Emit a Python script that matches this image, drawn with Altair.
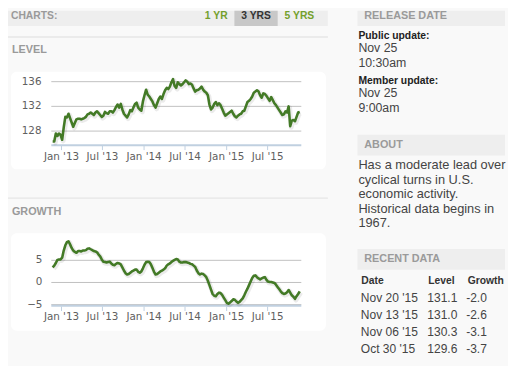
import altair as alt
import pandas as pd

# ---------------- data ----------------
START = "2012-11-23"   # first weekly observation (Fridays)
level = [
    126.3, 126.3, 127.6, 127.2, 127.6, 127.4, 126.6, 128.6, 130.3, 130.2,
    130.8, 130.1, 129.4, 128.7, 129.3, 129.9, 130.0, 130.0, 129.9, 130.0,
    130.1, 130.3, 130.7, 130.8, 131.0, 130.8, 130.6, 131.0, 131.2, 130.9,
    130.6, 130.3, 130.5, 131.1, 130.9, 130.8, 131.2, 131.2, 131.0, 131.4,
    131.9, 132.3, 131.8, 132.4, 131.5, 130.8, 130.5, 130.2, 130.7, 131.4,
    131.2, 131.8, 132.4, 132.6, 131.8, 131.5, 131.3, 132.8, 133.8, 134.7,
    133.9, 133.6, 133.2, 132.8, 132.2, 131.8, 132.5, 133.2, 133.6, 133.2,
    134.0, 134.6, 135.0, 134.8, 135.2, 135.9, 136.4, 135.3, 135.0, 135.9,
    135.6, 135.4, 135.6, 135.9, 136.2, 136.0, 135.6, 135.7, 135.5, 134.9,
    134.4, 134.6, 134.7, 134.9, 135.2, 134.7, 134.4, 134.2, 133.8, 132.3,
    131.5, 131.8, 132.4, 132.7, 132.2, 132.5, 132.2, 131.6, 131.0, 130.5,
    130.7, 130.9, 131.1, 131.3, 130.8, 130.4, 130.2, 130.5, 130.7, 130.8,
    131.2, 131.3, 132.0, 132.7, 132.9, 133.2, 133.6, 134.2, 134.4, 134.6,
    134.4, 133.8, 133.4, 134.1, 134.0, 133.7, 133.3, 132.9, 133.5, 133.0,
    132.5, 132.2, 131.8, 131.4, 131.0, 130.6, 130.7, 131.2, 131.0, 132.0,
    128.8, 129.7, 129.8, 129.6, 130.3, 131.0, 131.1,
]
growth = [
    3.4, 3.8, 4.4, 5.1, 5.2, 5.2, 5.6, 7.2, 8.4, 9.1,
    9.3, 8.6, 7.8, 7.2, 6.9, 6.7, 7.1, 7.1, 7.0, 7.2,
    7.2, 7.3, 7.6, 7.7, 7.5, 7.3, 7.1, 7.0, 6.8, 6.3,
    5.9, 5.2, 4.7, 4.6, 4.5, 4.6, 4.7, 4.3, 4.0, 3.9,
    4.2, 4.4, 4.3, 4.1, 3.4, 2.7, 2.1, 1.8, 1.9, 2.2,
    2.5, 2.7, 2.9, 2.9, 2.4, 2.2, 2.5, 3.2, 4.0, 4.6,
    4.7, 4.6, 4.1, 3.3, 2.4, 1.8, 1.9, 2.2, 2.5, 2.7,
    2.9, 3.2, 3.8, 4.1, 4.3, 4.6, 4.9, 5.1, 5.3, 5.2,
    4.7, 4.5, 4.5, 4.6, 4.6, 4.5, 4.4, 4.2, 4.1, 3.8,
    3.5, 2.7, 2.1, 1.8, 2.0, 1.9, 1.6, 1.2, 0.4, -0.6,
    -1.6, -2.6, -3.0, -3.1, -2.6, -2.3, -2.4, -2.8, -3.4, -4.0,
    -4.6, -4.8, -4.5, -4.2, -3.8, -3.9, -4.3, -4.6, -4.4, -4.0,
    -3.6, -2.9, -2.1, -1.4, -0.6, 0.2, 1.0, 1.5, 1.6, 1.2,
    0.9, 0.7, 0.9, 1.1, 1.2, 0.6, 0.2, 0.1, 0.1, 0.0,
    -0.1, -0.5, -1.0, -1.5, -2.0, -2.4, -2.6, -2.5, -2.2, -1.7,
    -2.3, -2.9, -3.2, -3.7, -3.1, -2.6, -2.0,
]
tick_dates = ["2013-01-01", "2013-07-01", "2014-01-01", "2014-07-01", "2015-01-01", "2015-07-01"]
tick_labels = ["Jan '13", "Jul '13", "Jan '14", "Jul '14", "Jan '15", "Jul '15"]
level_ticks = [128, 132, 136]
growth_ticks = [-5, 0, 5]

about_lines = ["Has a moderate lead over", "cyclical turns in U.S.", "economic activity.",
               "Historical data begins in", "1967."]
recent_dates = ["Nov 20 '15", "Nov 13 '15", "Nov 06 '15", "Oct 30 '15"]
recent_level = ["131.1", "131.0", "130.3", "129.6"]
recent_growth = ["-2.0", "-2.6", "-3.1", "-3.7"]

# ---------------- tables ----------------
df = pd.DataFrame({
    "date": pd.date_range(START, periods=len(level), freq="7D"),
    "level": level,
    "growth": growth,
})
ticks_df = pd.DataFrame({"date": pd.to_datetime(tick_dates), "label": tick_labels})
lt_df = pd.DataFrame({"v": level_ticks})
gt_df = pd.DataFrame({"v": growth_ticks})
about_df = pd.DataFrame({"i": list(range(len(about_lines))), "t": about_lines})
recent_df = pd.DataFrame({"i": list(range(len(recent_dates))), "d": recent_dates,
                          "l": recent_level, "g": recent_growth})
one = pd.DataFrame({"k": [0]})

SANS = "Liberation Sans"
AX = "DejaVu Sans"
GREEN = "#437a26"
LBLUE = "#c0d0e0"
GRID = "#c0c0c0"
HEAD = "#9a9a9a"
BODY = "#444444"

x_dom = [alt.DateTime(year=2012, month=11, date=17), alt.DateTime(year=2015, month=11, date=27)]
xs = alt.Scale(domain=x_dom, range=[44, 298])
xs_sh = alt.Scale(domain=x_dom, range=[45, 299])
ly = alt.Scale(domain=[125.8, 137], range=[136, 65.7], nice=False, zero=False)
ly_sh = alt.Scale(domain=[125.8, 137], range=[137.2, 66.9], nice=False, zero=False)
gy = alt.Scale(domain=[-5, 10], range=[298.5, 231], nice=False, zero=False)
gy_sh = alt.Scale(domain=[-5, 10], range=[299.7, 232.2], nice=False, zero=False)


def box(x, x2, y, y2, color, r=0):
    return alt.Chart(one).mark_rect(color=color, cornerRadius=r).encode(
        x=alt.value(x), x2=alt.value(x2), y=alt.value(y), y2=alt.value(y2))


def hline(x, x2, y, color, w=1):
    return alt.Chart(one).mark_rule(color=color, strokeWidth=w).encode(
        x=alt.value(x), x2=alt.value(x2), y=alt.value(y))


def label(text, x, y, size=12.5, weight="normal", color=BODY, align="left", font=SANS):
    return alt.Chart(one).mark_text(text=text, align=align, baseline="middle", fontSize=size,
                                    fontWeight=weight, color=color, font=font).encode(
        x=alt.value(x), y=alt.value(y))


layers = []
# ---- left header ----
layers += [
    box(0, 325, 0, 15.3, "#eeeeee"),
    box(230, 274, 0, 15.3, "#c8c8c8"),
    label("CHARTS:", 3, 5.5, 10.5, "bold", HEAD),
    label("1 YR", 200, 5.5, 10.5, "bold", "#74a02c"),
    label("3 YRS", 237, 5.5, 10.5, "bold", "#333333"),
    label("5 YRS", 281, 5.5, 10.5, "bold", "#74a02c"),
    hline(0, 325, 26.5, "#e6e6e6", 1.5),
    label("LEVEL", 4, 40.3, 11, "bold", HEAD),
    hline(0, 325, 190.3, "#e6e6e6", 1.5),
    label("GROWTH", 4, 204.7, 11, "bold", HEAD),
    box(3, 323, 62, 161, "#ffffff", 6),
    box(3, 323, 226, 325, "#ffffff", 6),
]

# ---- level chart ----
layers += [
    alt.Chart(lt_df).mark_rule(color=GRID, strokeWidth=1).encode(
        y=alt.Y("v:Q", scale=ly, axis=None), x=alt.value(44), x2=alt.value(298)),
    alt.Chart(lt_df).mark_text(align="right", baseline="middle", fontSize=10.5, font=AX,
                               color="#606060").encode(
        y=alt.Y("v:Q", scale=ly, axis=None), x=alt.value(34), text=alt.Text("v:Q")),
    hline(44, 298, 136.5, LBLUE, 2),
    alt.Chart(ticks_df).mark_rule(color=LBLUE, strokeWidth=1).encode(
        x=alt.X("date:T", scale=xs, axis=None), y=alt.value(137), y2=alt.value(141.5)),
    alt.Chart(ticks_df).mark_text(align="center", baseline="middle", fontSize=10.5, font=AX,
                                  color="#606060").encode(
        x=alt.X("date:T", scale=xs, axis=None), y=alt.value(148.5), text="label:N"),
    alt.Chart(df).mark_line(color="#000000", strokeWidth=5, opacity=0.08, strokeJoin="round").encode(
        x=alt.X("date:T", scale=xs_sh, axis=None), y=alt.Y("level:Q", scale=ly_sh, axis=None)),
    alt.Chart(df).mark_line(color=GREEN, strokeWidth=2.6, strokeJoin="round").encode(
        x=alt.X("date:T", scale=xs, axis=None), y=alt.Y("level:Q", scale=ly, axis=None)),
]

# ---- growth chart ----
layers += [
    alt.Chart(gt_df).mark_rule(color=GRID, strokeWidth=1).encode(
        y=alt.Y("v:Q", scale=gy, axis=None), x=alt.value(44), x2=alt.value(298)),
    alt.Chart(gt_df).mark_text(align="right", baseline="middle", fontSize=10.5, font=AX,
                               color="#606060").encode(
        y=alt.Y("v:Q", scale=gy, axis=None), x=alt.value(35), text=alt.Text("v:Q", format="d")),
    hline(44, 298, 299.7, LBLUE, 2),
    alt.Chart(ticks_df).mark_rule(color=LBLUE, strokeWidth=1).encode(
        x=alt.X("date:T", scale=xs, axis=None), y=alt.value(300.5), y2=alt.value(305)),
    alt.Chart(ticks_df).mark_text(align="center", baseline="middle", fontSize=10.5, font=AX,
                                  color="#606060").encode(
        x=alt.X("date:T", scale=xs, axis=None), y=alt.value(311.5), text="label:N"),
    alt.Chart(df).mark_line(color="#000000", strokeWidth=5, opacity=0.08, strokeJoin="round").encode(
        x=alt.X("date:T", scale=xs_sh, axis=None), y=alt.Y("growth:Q", scale=gy_sh, axis=None)),
    alt.Chart(df).mark_line(color=GREEN, strokeWidth=2.6, strokeJoin="round").encode(
        x=alt.X("date:T", scale=xs, axis=None), y=alt.Y("growth:Q", scale=gy, axis=None)),
]

# ---- right panel ----
layers += [
    box(355, 505, 0, 15.3, "#eeeeee"),
    label("RELEASE DATE", 362, 5.5, 11, "bold", HEAD),
    label("Public update:", 356, 25.3, 10.5, "bold", "#222222"),
    label("Nov 25", 356, 38.3),
    label("10:30am", 356, 53.3),
    label("Member update:", 356, 71.5, 10.5, "bold", "#222222"),
    label("Nov 25", 356, 84),
    label("9:00am", 356, 99),
    box(355, 505, 126, 147, "#eeeeee"),
    label("ABOUT", 362, 136.5, 11, "bold", HEAD),
    alt.Chart(about_df).mark_text(align="left", baseline="middle", fontSize=13, font=SANS,
                                  color=BODY).encode(
        y=alt.Y("i:Q", scale=alt.Scale(domain=[0, 4], range=[157, 216], nice=False, zero=False), axis=None),
        x=alt.value(356), text="t:N"),
    box(355, 505, 242, 263, "#eeeeee"),
    label("RECENT DATA", 362, 252.5, 11, "bold", HEAD),
    label("Date", 359, 274.7, 10.5, "bold", "#333333"),
    label("Level", 427, 274.7, 10.5, "bold", "#333333"),
    label("Growth", 467, 274.7, 10.5, "bold", "#333333"),
]
ry = alt.Scale(domain=[0, 3], range=[292, 343.7], nice=False, zero=False)
for col, xpos in [("d", 358.5), ("l", 426), ("g", 465.5)]:
    layers.append(
        alt.Chart(recent_df).mark_text(align="left", baseline="middle", fontSize=12.2, font=SANS,
                                       color=BODY).encode(
            y=alt.Y("i:Q", scale=ry, axis=None), x=alt.value(xpos), text=f"{col}:N"))

chart = alt.layer(*layers).resolve_scale(x="independent", y="independent").properties(
    width=508, height=358, padding=0, background="#f9f9f9",
    autosize=alt.AutoSizeParams(type="none"),
).configure_view(stroke=None)

chart.save("out.html", embed_options={"renderer": "svg", "actions": False})
